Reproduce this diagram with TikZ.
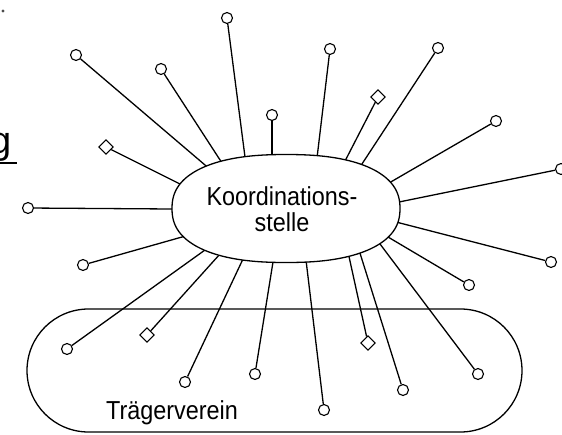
\documentclass[tikz,border=0pt]{standalone}
\usepackage{fontspec}
\setmainfont{Liberation Sans}
\newfontfamily\dinfont[FakeStretch=0.9]{Liberation Sans}
\tikzset{
  spoke/.style={line width=1.3pt, shorten >=-10pt},
  ring/.style={circle, draw, line width=1.1pt, minimum size=11pt, inner sep=0pt},
  rhomb/.style={rectangle, draw, line width=1.1pt, minimum size=10pt, inner sep=0pt, rotate=45},
  lbl/.style={font=\dinfont\fontsize{26}{26}\selectfont, inner sep=0pt},
}
\begin{document}
\begin{tikzpicture}[x=1pt,y=-1pt]
\useasboundingbox (0,0) rectangle (562,434);
\clip (0,0) rectangle (562,434);
% markers
\node[ring]  (c1)  at (76,55)   {};
\node[ring]  (c2)  at (161,69)  {};
\node[ring]  (c3)  at (227,18)  {};
\node[ring]  (c4)  at (272,115) {};
\node[rhomb] (d5)  at (106,147) {};
\node[ring]  (c6)  at (28,208)  {};
\node[ring]  (c7)  at (330,49)  {};
\node[rhomb] (d8)  at (378,97)  {};
\node[ring]  (c9)  at (438,48)  {};
\node[ring]  (c10) at (496,121) {};
\node[ring]  (c11) at (561,169) {};
\node[ring]  (c12) at (83,265)  {};
\node[ring]  (c13) at (67,349)  {};
\node[rhomb] (d14) at (147,335) {};
\node[ring]  (c15) at (185,382) {};
\node[ring]  (c16) at (255,374) {};
\node[ring]  (c17) at (324,410) {};
\node[rhomb] (d18) at (368,343) {};
\node[ring]  (c19) at (403,390) {};
\node[ring]  (c20) at (478,374) {};
\node[ring]  (c21) at (469,285) {};
\node[ring]  (c22) at (551,262) {};
% roots on the central shape
\coordinate (r1)  at (205,165);
\coordinate (r2)  at (222,163);
\coordinate (r3)  at (245,157);
\coordinate (r4)  at (272,155);
\coordinate (r5)  at (178,183);
\coordinate (r6)  at (172,209);
\coordinate (r7)  at (317,158);
\coordinate (r8)  at (344,163);
\coordinate (r9)  at (360,167);
\coordinate (r10) at (389,183);
\coordinate (r11) at (399,202);
\coordinate (r12) at (182,237);
\coordinate (r13) at (205,250);
\coordinate (r14) at (220,254);
\coordinate (r15) at (243,259);
\coordinate (r16) at (273,262);
\coordinate (r17) at (306,260);
\coordinate (r18) at (348,252);
\coordinate (r19) at (359,250);
\coordinate (r20) at (380,244);
\coordinate (r21) at (388,237);
\coordinate (r22) at (396,222);
% spokes
\foreach \m/\r in {c1/r1,c2/r2,c3/r3,c4/r4,d5/r5,c6/r6,c7/r7,d8/r8,c9/r9,c10/r10,c11/r11,
                   c12/r12,c13/r13,d14/r14,c15/r15,c16/r16,c17/r17,d18/r18,c19/r19,c20/r20,c21/r21,c22/r22}
  \draw[spoke] (\m) -- (\r);
% central shape
\draw[line width=1.3pt, fill=white] plot[smooth, domain=0:360, samples=145]
  ({286+114*cos(\x)/((abs(cos(\x))+0.001)^0.15)}, {208.5+54*sin(\x)/((abs(sin(\x))+0.001)^0.15)});
\node[lbl, align=center] (E) at (282,209) {Koordinations-\\stelle};
% Traegerverein
\draw[line width=1.3pt, rounded corners=61.5pt] (27,309) rectangle (522,432);
\node[lbl, anchor=base] (T) at (172,419) {Trägerverein};
% cut-off heading
\node[font=\fontsize{38}{38}\selectfont, inner sep=0pt, anchor=base east] (G) at (11.5,153) {g};
\coordinate (u0) at (0,163);
\coordinate (u1) at (17,163);
\draw[line width=1.8pt] (u0) -- (u1);
\fill[black!70] (3,11) circle (1.6pt);
\end{tikzpicture}
\end{document}
